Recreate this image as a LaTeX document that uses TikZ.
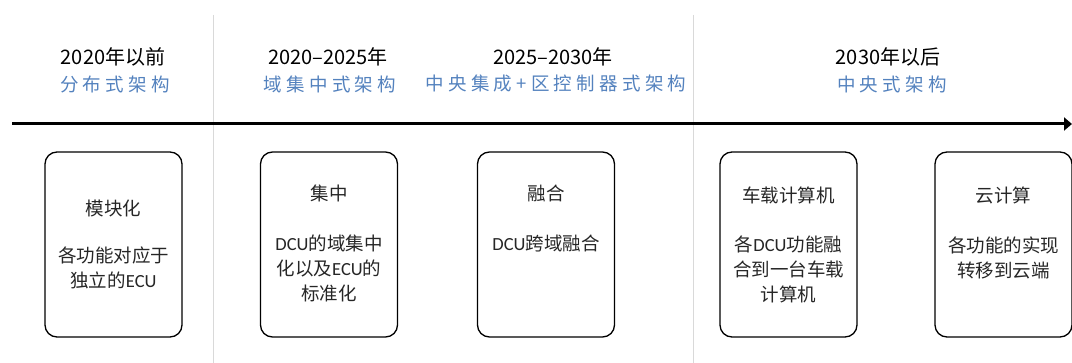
\documentclass[tikz,border=0pt]{standalone}
\usepackage{fontspec}
\setmainfont{Carlito}
\newfontfamily\cjk{Noto Sans CJK SC}
\newfontfamily\cjkwide[LetterSpace=23]{Noto Sans CJK SC}
\usetikzlibrary{arrows.meta}
\definecolor{eraBlue}{RGB}{84,130,190}
\definecolor{sepGray}{RGB}{217,217,217}
\definecolor{cardInk}{RGB}{38,38,38}
\begin{document}
\begin{tikzpicture}[x=1pt,y=-1pt,
  card/.style={draw,rounded corners=12pt,line width=1.3pt,minimum width=137pt,minimum height=185pt,inner sep=0pt},
  year/.style={font=\cjk\fontsize{20}{22}\selectfont,inner sep=0pt},
  era/.style={text=eraBlue,font=\cjkwide\fontsize{18.5}{22}\selectfont,inner sep=0pt},
  cardtext/.style={align=center,text=cardInk,font=\fontsize{18.5}{25}\selectfont,inner sep=0pt}]
\useasboundingbox (0,0) rectangle (1072,363);

% separators
\coordinate (s1top) at (213,15);
\coordinate (s1bot) at (213,363);
\coordinate (s2top) at (693,15);
\coordinate (s2bot) at (693,363);
\draw[sepGray,line width=1pt] (s1top) -- (s1bot);
\draw[sepGray,line width=1pt] (s2top) -- (s2bot);

% timeline
\coordinate (tstart) at (12,124);
\coordinate (tend) at (1072,124);
\draw[line width=3pt,-{Triangle[length=8pt,width=13pt]}] (tstart) -- (tend);

% headers
\node[year] (y1) at (113,57) {2020年以前};
\node[era] (e1) at (115,84) {分布式架构};
\node[year] (y2) at (328,57) {2020–2025年};
\node[era] (e2) at (330,84) {域集中式架构};
\node[year] (y3) at (553,57) {2025–2030年};
\node[era] (e3) at (556,84) {中央集成+区控制器式架构};
\node[year] (y4) at (888,57) {2030年以后};
\node[era] (e4) at (892,84) {中央式架构};

% cards
\node[card] (c1) at (113.5,244.5) {};
\node[cardtext] (c1title) at (113.5,208) {\cjk 模块化};
\node[cardtext] (c1body) at (113.5,267.5) {{\cjk 各功能对应于}\\{\cjk 独立的}ECU};

\node[card] (c2) at (329,244.5) {};
\node[cardtext] (c2title) at (329,193) {\cjk 集中};
\node[cardtext] (c2body) at (329,268) {DCU{\cjk 的域集中}\\{\cjk 化以及}ECU{\cjk 的}\\{\cjk 标准化}};

\node[card] (c3) at (546,244.5) {};
\node[cardtext] (c3title) at (546,193) {\cjk 融合};
\node[cardtext] (c3body) at (546,243) {DCU{\cjk 跨域融合}};

\node[card] (c4) at (788.5,244.5) {};
\node[cardtext] (c4title) at (788.5,195) {\cjk 车载计算机};
\node[cardtext] (c4body) at (788.5,269) {{\cjk 各}DCU{\cjk 功能融}\\{\cjk 合到一台车载}\\{\cjk 计算机}};

\node[card] (c5) at (1003.5,244.5) {};
\node[cardtext] (c5title) at (1003.5,195) {\cjk 云计算};
\node[cardtext] (c5body) at (1003.5,257.5) {{\cjk 各功能的实现}\\{\cjk 转移到云端}};

\end{tikzpicture}
\end{document}
